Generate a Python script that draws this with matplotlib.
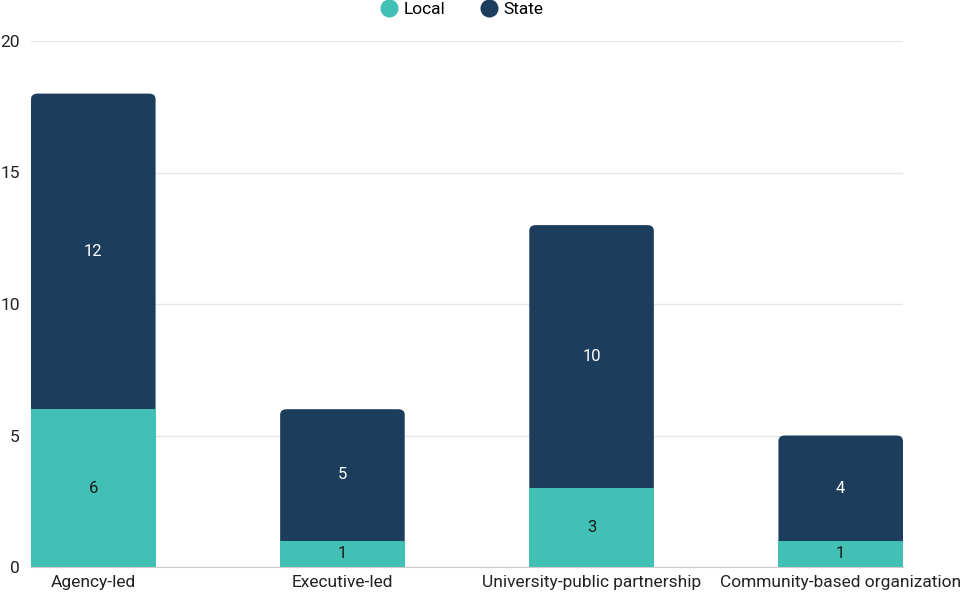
import matplotlib
matplotlib.use("Agg")
import matplotlib.pyplot as plt
from matplotlib.patches import FancyBboxPatch
from matplotlib.lines import Line2D
import numpy as np

categories = ["Agency-led", "Executive-led", "University-public partnership",
              "Community-based organization"]
local = [6, 1, 3, 1]
state = [12, 5, 10, 4]

LOCAL_COLOR = "#42c0b5"
STATE_COLOR = "#1d3d5c"

plt.rcParams["font.family"] = ["Roboto", "DejaVu Sans"]

fig = plt.figure(figsize=(9.62, 5.92), dpi=100)
ax = fig.add_axes([31 / 962, 25 / 592, 872 / 962, 526 / 592])

x = np.arange(len(categories))
width = 0.5
local_bars = ax.bar(x, local, width, color=LOCAL_COLOR, zorder=4)
state_bars = ax.bar(x, state, width, bottom=local, color=STATE_COLOR, zorder=3)

# swap the top segments for patches with rounded top corners
fig.canvas.draw()
px_per_x = ax.transData.transform((1, 0))[0] - ax.transData.transform((0, 0))[0]
px_per_y = ax.transData.transform((0, 1))[1] - ax.transData.transform((0, 0))[1]
radius_px = 6
for rect in state_bars:
    x0, y0 = rect.get_x(), rect.get_y()
    w, h = rect.get_width(), rect.get_height()
    rect.set_visible(False)
    rx = radius_px / px_per_x
    ry = radius_px / px_per_y
    # extend below so the bottom corners are hidden under the local segment
    patch = FancyBboxPatch((x0 + rx, y0 - 1), w - 2 * rx, h + 1 - ry,
                           boxstyle=f"round,pad={rx},rounding_size={rx}",
                           mutation_aspect=ry / rx,
                           facecolor=STATE_COLOR, edgecolor="none", zorder=3)
    ax.add_patch(patch)

for rect, v in zip(local_bars, local):
    ax.text(rect.get_x() + rect.get_width() / 2, rect.get_y() + v / 2, str(v),
            ha="center", va="center", fontsize=12, color="#1a1a1a", zorder=5)
for rect, v in zip(state_bars, state):
    ax.text(rect.get_x() + rect.get_width() / 2, rect.get_y() + v / 2, str(v),
            ha="center", va="center", fontsize=12, color="white", zorder=5)

ax.set_xlim(-0.25, len(categories) - 0.75)
ax.set_ylim(0, 20)
ax.set_yticks([0, 5, 10, 15, 20])
ax.set_xticks(x)
ax.set_xticklabels(categories)
ax.grid(axis="y", color="#e6e6e6", linewidth=1, zorder=0)
ax.set_axisbelow(True)
for s in ["top", "right", "left"]:
    ax.spines[s].set_visible(False)
ax.spines["bottom"].set_color("#cccccc")
ax.spines["bottom"].set_zorder(6)
ax.tick_params(axis="both", length=0, labelsize=12.5, colors="#222222")
ax.tick_params(axis="y", pad=8)
ax.tick_params(axis="x", pad=5.5)

handles = [Line2D([], [], marker="o", linestyle="", markersize=13,
                  markerfacecolor=LOCAL_COLOR, markeredgecolor="none"),
           Line2D([], [], marker="o", linestyle="", markersize=13,
                  markerfacecolor=STATE_COLOR, markeredgecolor="none")]
fig.legend(handles, ["Local", "State"], loc="center", bbox_to_anchor=(462 / 962, 1 - 9 / 592),
           ncol=2, frameon=False, fontsize=12.5, handletextpad=0.35, columnspacing=2.0,
           handlelength=1.0)

fig.savefig("out.png", dpi=100)
